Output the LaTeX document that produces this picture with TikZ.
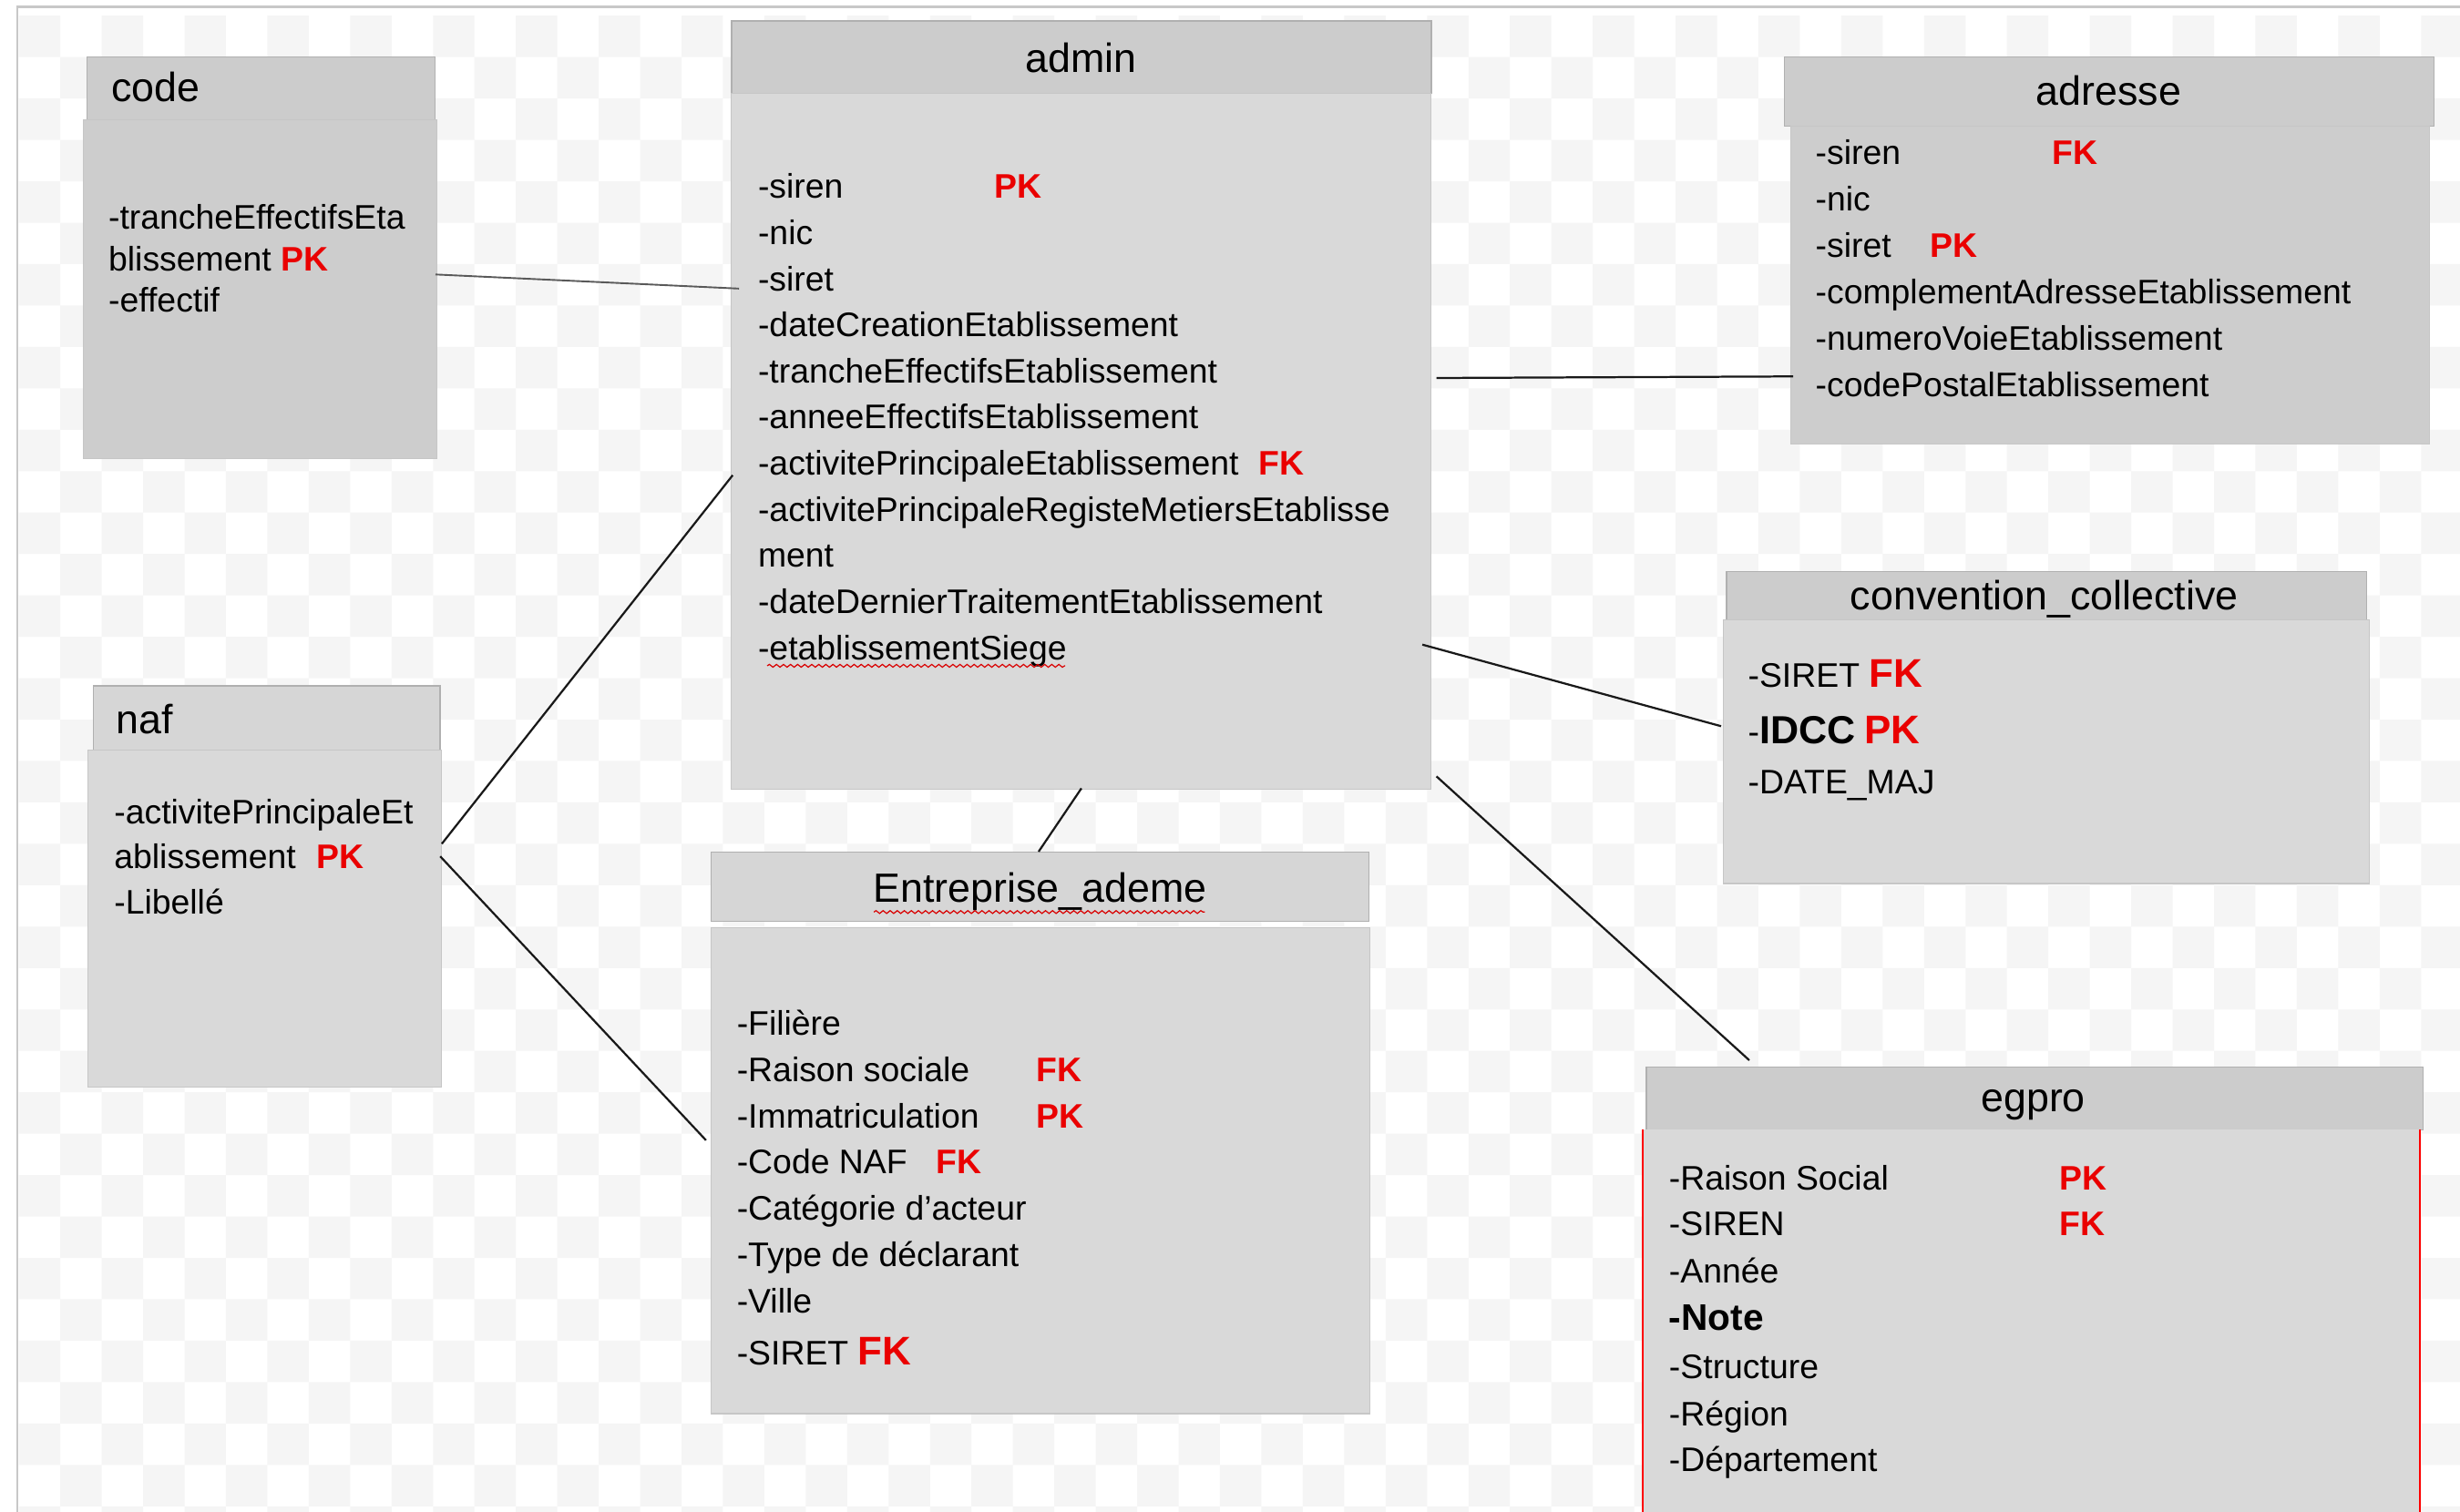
\documentclass[tikz,border=0pt]{standalone}
\usepackage{fontspec}
\setmainfont{Liberation Sans}
\usetikzlibrary{calc,decorations.pathmorphing}
\definecolor{hdrfill}{RGB}{204,204,204}
\definecolor{hdrlight}{RGB}{214,214,214}
\definecolor{bodyfill}{RGB}{217,217,217}
\definecolor{bodydark}{RGB}{205,205,205}
\definecolor{hdrline}{RGB}{176,176,176}
\definecolor{bodyline}{RGB}{198,198,198}
\definecolor{keyred}{RGB}{234,0,0}
\definecolor{checkgray}{RGB}{245,245,245}
\definecolor{framegray}{RGB}{200,200,200}
\definecolor{linkcol}{RGB}{25,25,25}
\newcommand\keyf[1]{{\bfseries\color{keyred}#1}}
\newcommand\bigkeyf[1]{{\fontsize{25.5}{30}\selectfont\bfseries\color{keyred}#1}}
\tikzset{
  hdr/.style={draw=hdrline, line width=0.8, fill=hdrfill, inner sep=0, anchor=north west},
  bdy/.style={draw=bodyline, line width=0.6, fill=bodyfill, inner sep=0, anchor=north west},
  ttl/.style={font=\fontsize{26}{30}\selectfont, inner sep=0, text=black},
  txt/.style={font=\fontsize{21.7}{26}\selectfont, anchor=base west, inner sep=0, text=black},
  link/.style={draw=linkcol, line width=1.3},
  squig/.style={draw=red!85!black, line width=0.7, decorate, decoration={snake, amplitude=0.9, segment length=4.5}},
}
\begin{document}
\begin{tikzpicture}[x=1pt,y=-1pt]
\useasboundingbox (0,0) rectangle (1568,964);
\clip (0,0) rectangle (1568,964);
% background
\fill[white] (0,0) rectangle (1568,964);
\begin{scope}
\clip (11.5,5) rectangle (1568,964);
\fill[checkgray] \foreach \r in {0,...,36} { \foreach \c in {0,...,29} { ({12+26.4*(2*\c+mod(\r,2))},{10+26.4*\r}) rectangle ++(26.4,26.4) } };
\end{scope}
\draw[framegray, line width=1.6] (11,964) -- (11,4.3) -- (1568,4.3);

% ---------- code ----------
\node[hdr, minimum width=222, minimum height=40] (codeh) at (55,36) {};
\node[bdy, fill=bodydark, minimum width=225, minimum height=216] (codeb) at (53,76) {};
\node[ttl, anchor=base west] (codet) at (71,65) {code};
\node[txt] (c1) at (69,146) {-trancheEffectifsEta};
\node[txt] (c2) at (69,172.5) {blissement \keyf{PK}};
\node[txt] (c3) at (69,199) {-effectif};

% ---------- admin ----------
\node[hdr, minimum width=446, minimum height=46] (adminh) at (466,13) {};
\node[bdy, minimum width=446, minimum height=444] (adminb) at (466,59) {};
\node[ttl, anchor=base] (admint) at (689,46) {admin};
\node[txt] (a1) at (483,126.5) {\makebox[150.7pt][l]{-siren}\keyf{PK}};
\node[txt] (a2) at (483,155.9) {-nic};
\node[txt] (a3) at (483,185.3) {-siret};
\node[txt] (a4) at (483,214.7) {-dateCreationEtablissement};
\node[txt] (a5) at (483,244.1) {-trancheEffectifsEtablissement};
\node[txt] (a6) at (483,273.5) {-anneeEffectifsEtablissement};
\node[txt] (a7) at (483,302.9) {\makebox[319pt][l]{-activitePrincipaleEtablissement}\keyf{FK}};
\node[txt] (a8) at (483,332.3) {-activitePrincipaleRegisteMetiersEtablisse};
\node[txt] (a9) at (483,361.7) {ment};
\node[txt] (a10) at (483,391.1) {-dateDernierTraitementEtablissement};
\node[txt] (a11) at (483,420.5) {-etablissementSiege};
\draw[squig] (489,424.5) -- (679,424.5);

% ---------- adresse ----------
\node[hdr, minimum width=414, minimum height=44] (adrh) at (1137,36) {};
\node[bdy, fill=bodydark, minimum width=407, minimum height=203] (adrb) at (1141,80) {};
\node[ttl, anchor=base] (adrt) at (1344,67) {adresse};
\node[txt] (r1) at (1157,105) {\makebox[151pt][l]{-siren}\keyf{FK}};
\node[txt] (r2) at (1157,134.6) {-nic};
\node[txt] (r3) at (1157,164.2) {\makebox[73pt][l]{-siret}\keyf{PK}};
\node[txt] (r4) at (1157,193.8) {-complementAdresseEtablissement};
\node[txt] (r5) at (1157,223.4) {-numeroVoieEtablissement};
\node[txt] (r6) at (1157,253) {-codePostalEtablissement};

% ---------- convention_collective ----------
\node[hdr, minimum width=408, minimum height=31] (convh) at (1100,364) {};
\node[bdy, minimum width=412, minimum height=168] (convb) at (1098,395) {};
\node[ttl, anchor=base] (convt) at (1303,389) {convention\_collective};
\node[txt] (v1) at (1114,438) {-SIRET \bigkeyf{FK}};
\node[txt] (v2) at (1114,474) {-{\fontsize{25}{30}\selectfont\bfseries IDCC} \bigkeyf{PK}};
\node[txt] (v3) at (1114,506) {-DATE\_MAJ};

% ---------- naf ----------
\node[hdr, fill=hdrlight, minimum width=221, minimum height=41] (nafh) at (59,437) {};
\node[bdy, minimum width=225, minimum height=215] (nafb) at (56,478) {};
\node[ttl, anchor=base west] (naft) at (74,468) {naf};
\node[txt] (n1) at (72.6,525) {-activitePrincipaleEt};
\node[txt] (n2) at (72.6,554) {\makebox[128.9pt][l]{ablissement}\keyf{PK}};
\node[txt] (n3) at (72.6,583) {-Libellé};

% ---------- Entreprise_ademe ----------
\node[hdr, fill=hdrlight, minimum width=419, minimum height=44] (entrh) at (453,543) {};
\node[bdy, minimum width=420, minimum height=310] (entrb) at (453,591) {};
\node[ttl, anchor=base] (entrt) at (663,575) {Entreprise\_ademe};
\draw[squig] (557,581.5) -- (768,581.5);
\node[txt] (e1) at (469.5,660) {-Filière};
\node[txt] (e2) at (469.5,689.5) {\makebox[190.8pt][l]{-Raison sociale}\keyf{FK}};
\node[txt] (e3) at (469.5,719) {\makebox[190.8pt][l]{-Immatriculation}\keyf{PK}};
\node[txt] (e4) at (469.5,748.5) {\makebox[127.2pt][l]{-Code NAF}\keyf{FK}};
\node[txt] (e5) at (469.5,778) {-Catégorie d’acteur};
\node[txt] (e6) at (469.5,807.5) {-Type de déclarant};
\node[txt] (e7) at (469.5,837) {-Ville};
\node[txt] (e8) at (469.5,870) {-SIRET \bigkeyf{FK}};

% ---------- egpro ----------
\node[hdr, minimum width=495, minimum height=40] (egh) at (1049,680) {};
\node[inner sep=0, anchor=north west, fill=bodyfill, minimum width=495, minimum height=260] (egb) at (1047,720) {};
\draw[red, line width=1.1] (egb.north west) -- (egb.south west);
\draw[red, line width=1.1] (egb.north east) -- (egb.south east);
\node[ttl, anchor=base] (egt) at (1296,709) {egpro};
\node[txt] (g1) at (1063.7,759) {\makebox[248.7pt][l]{-Raison Social}\keyf{PK}};
\node[txt] (g2) at (1063.7,788) {\makebox[248.7pt][l]{-SIREN}\keyf{FK}};
\node[txt] (g3) at (1063.7,818) {-Année};
\node[txt, font=\fontsize{23.6}{28}\selectfont\bfseries] (g4) at (1063.7,848) {-Note};
\node[txt] (g5) at (1063.7,879) {-Structure};
\node[txt] (g6) at (1063.7,909) {-Région};
\node[txt] (g7) at (1063.7,938) {-Département};

% ---------- connectors ----------
\draw[link, draw=black!65, line width=1.1] ($(codeb.north east)+(-1,99)$) -- ($(adminb.north west)+(5,125)$);
\draw[link] ($(adminb.north east)+(3,182)$) -- ($(adrb.north west)+(2,160)$);
\draw[link] ($(adminb.north east)+(-6,352)$) -- ($(convb.north west)+(-1,68)$);
\draw[link] ($(adminb.north east)+(3,436)$) -- ($(egh.north west)+(66,-4)$);
\draw[link] ($(adminb.south)+(0,-1)$) -- ($(entrh.north west)+(209,0)$);
\draw[link] ($(nafb.north east)+(0,60)$) -- ($(adminb.north west)+(1,244)$);
\draw[link] ($(nafb.north east)+(-1,68)$) -- ($(entrb.north west)+(-3,136)$);
\end{tikzpicture}
\end{document}
